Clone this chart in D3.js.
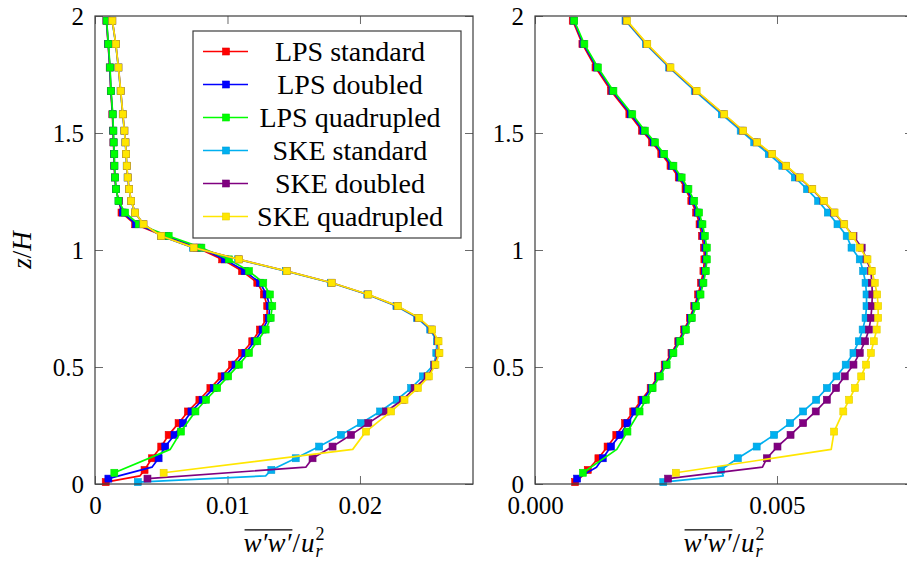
<!DOCTYPE html>
<html><head><meta charset="utf-8">
<script src="https://cdn.jsdelivr.net/npm/d3@7"></script>
<style>
body{margin:0;background:#fff}
svg{display:block}
</style>
</head><body>
<svg id="chart" width="907" height="561"></svg>
<script>
// ---------- data ----------
const seriesNames = ["LPS standard","LPS doubled","LPS quadrupled","SKE standard","SKE doubled","SKE quadrupled"];
const seriesColors = ["#ff0000","#0000ff","#00ff00","#00b0f0","#800080","#ffe600"];

const zCommon = [1.98,1.88,1.78,1.68,1.58,1.51,1.46,1.41,1.36,1.31,1.26,1.21,1.16,1.11,1.06,1.01,0.96,0.91,0.86,0.81,0.76,0.71,0.66,0.61,0.56,0.51,0.46,0.41,0.36,0.31];
const zTailStandard   = [0.26,0.21,0.16,0.11,0.06,0.035,0.008];
const zTailDoubled    = [0.26,0.21,0.16,0.11,0.072,0.023];
const zTailQuadrupled = [0.224,0.148,0.048];
const zUnmarked = [0.035,0.072,0.148]; // line corners drawn without a marker

// left panel
const lpsStdLeft  = [0.00086,0.00099,0.00111,0.00119,0.00131,0.00136,0.00139,0.00143,0.00145,0.0015,0.00158,0.0018,0.0020,0.00303,0.0052,0.0077,0.0096,0.0111,0.01225,0.01275,0.013,0.01298,0.01245,0.01187,0.0111,0.01035,0.00955,0.00871,0.00788,0.00702,
                     0.00631,0.00556,0.005,0.0043,0.00374,0.0034,0.00081];
const lpsDblLeft  = [0.00087,0.001,0.00112,0.0012,0.00133,0.00138,0.0014,0.00145,0.00146,0.00151,0.00158,0.00178,0.0021,0.0031,0.0054,0.0079,0.0098,0.0113,0.01245,0.01295,0.01318,0.01312,0.01265,0.01205,0.01135,0.0106,0.0098,0.00896,0.00812,0.00728,
                     0.00664,0.006,0.0053,0.0048,0.0043,0.00101];
const lpsQuadLeft = [0.00088,0.00101,0.00114,0.00121,0.00134,0.00139,0.00141,0.00146,0.00147,0.00152,0.00159,0.00177,0.00227,0.0033,0.00556,0.00803,0.0101,0.01162,0.0127,0.0132,0.01338,0.01326,0.01288,0.01225,0.01162,0.01086,0.01005,0.00922,0.00838,0.00758,
                     0.00649,0.00568,0.00146];
const skeStdLeft  = [0.0013,0.00156,0.00176,0.00193,0.00209,0.00221,0.00229,0.00234,0.00239,0.00246,0.00257,0.00272,0.00302,0.00364,0.00498,0.0074,0.0108,0.0144,0.0178,0.02055,0.02275,0.0243,0.0253,0.0258,0.02576,0.02558,0.02475,0.02386,0.02278,0.02152,
                     0.02008,0.01856,0.01692,0.01515,0.01331,0.01288,0.00323];
const skeDblLeft  = [0.00131,0.00157,0.00177,0.00194,0.0021,0.00222,0.0023,0.00235,0.0024,0.00247,0.00258,0.00273,0.00303,0.00366,0.005,0.00745,0.01086,0.01447,0.01786,0.0206,0.02283,0.0244,0.0254,0.02588,0.02594,0.02562,0.0251,0.02412,0.02323,0.02197,
                     0.02063,0.01932,0.01793,0.01642,0.01591,0.00396];
const skeQuadLeft = [0.00131,0.00157,0.00177,0.00194,0.0021,0.00222,0.0023,0.00235,0.0024,0.00247,0.00258,0.00273,0.00303,0.00366,0.005,0.00745,0.01086,0.01447,0.01786,0.02063,0.02286,0.02445,0.02545,0.02593,0.026,0.0257,0.0252,0.02437,0.02336,0.02235,
                     0.02045,0.01945,0.00518];

// right panel
const lpsStdRight  = [0.00078,0.00098,0.00125,0.00157,0.00195,0.00221,0.00242,0.00261,0.0028,0.00297,0.00311,0.00323,0.00333,0.0034,0.00345,0.00349,0.0035,0.00348,0.00343,0.00337,0.00329,0.0032,0.00308,0.00296,0.00282,0.00268,0.00254,0.00239,0.0022,0.00203,
                      0.00186,0.00168,0.0015,0.00131,0.00109,0.00098,0.00083];
const lpsDblRight  = [0.0008,0.001,0.00128,0.0016,0.00198,0.00224,0.00245,0.00264,0.00283,0.003,0.00314,0.00326,0.00336,0.00343,0.00348,0.00352,0.00353,0.00351,0.00346,0.0034,0.00331,0.00322,0.0031,0.00298,0.00284,0.0027,0.00256,0.00241,0.00223,0.00207,
                      0.00191,0.00176,0.00157,0.0014,0.00127,0.00087];
const lpsQuadRight = [0.00081,0.00102,0.0013,0.00162,0.00201,0.00227,0.00248,0.00267,0.00286,0.00303,0.00317,0.00329,0.00339,0.00346,0.00351,0.00355,0.00355,0.00353,0.00348,0.00342,0.00333,0.00324,0.00312,0.003,0.00286,0.00272,0.00258,0.00243,0.00229,0.00216,
                      0.00191,0.00169,0.00099];
const skeStdRight  = [0.00187,0.00229,0.00277,0.0033,0.00386,0.00425,0.00453,0.00483,0.00511,0.00537,0.00562,0.00585,0.00605,0.00625,0.00644,0.00654,0.00671,0.00678,0.00683,0.00685,0.00685,0.00683,0.00677,0.00669,0.00658,0.00642,0.00623,0.00603,0.00581,0.00554,
                      0.00527,0.00494,0.00458,0.00419,0.00384,0.00389,0.00265];
const skeDblRight  = [0.00189,0.00231,0.00279,0.00333,0.0039,0.00429,0.00458,0.00489,0.00518,0.00546,0.00572,0.00596,0.00618,0.00638,0.00658,0.00675,0.00685,0.00694,0.00696,0.00697,0.00696,0.00694,0.0069,0.00682,0.00671,0.00658,0.0064,0.00622,0.00603,0.0058,
                      0.00554,0.00528,0.00501,0.00479,0.0047,0.00275];
const skeQuadRight = [0.0019,0.00232,0.0028,0.00334,0.00391,0.0043,0.00459,0.0049,0.00519,0.00547,0.00573,0.00597,0.00619,0.00639,0.00656,0.00671,0.00687,0.00696,0.00702,0.00707,0.00709,0.00709,0.00706,0.007,0.00694,0.00684,0.00674,0.00661,0.00649,0.00637,
                      0.00618,0.00612,0.00291];

const xTicksLeft = [0, 0.01, 0.02];
const xTickLabelsLeft = ["0", "0.01", "0.02"];
const xTicksRight = [0, 0.005];
const xTickLabelsRight = ["0.000", "0.005"];
const yTicks = [0, 0.5, 1, 1.5, 2];
const yTickLabels = ["0", "0.5", "1", "1.5", "2"];
const xDomainLeft = [0, 0.02853];
const xDomainRight = [0, 0.00781];
const yDomain = [0, 2];

// ---------- font choice (serif, whichever is installed) ----------
function fontAvailable(name) {
  const c = document.createElement("canvas").getContext("2d");
  const s = "abcdefghijklmnopqrstuvwxyz0123456789";
  c.font = "40px monospace"; const a = c.measureText(s).width;
  c.font = `40px "${name}", monospace`; const b = c.measureText(s).width;
  return Math.abs(a - b) > 0.5;
}
let FONT, tickFont, legendFont, labelFont, supFont;
if (fontAvailable("Liberation Serif")) {
  FONT = '"Liberation Serif", serif'; tickFont = 25; legendFont = 28; labelFont = 27; supFont = 18;
} else if (fontAvailable("DejaVu Serif")) {
  FONT = '"DejaVu Serif", serif'; tickFont = 20; legendFont = 23; labelFont = 22; supFont = 15;
} else {
  FONT = '"Noto Serif", serif'; tickFont = 21; legendFont = 24; labelFont = 23; supFont = 16;
}

// ---------- build ----------
const zTails = [zTailStandard, zTailDoubled, zTailQuadrupled];
const leftValues  = [lpsStdLeft, lpsDblLeft, lpsQuadLeft, skeStdLeft, skeDblLeft, skeQuadLeft];
const rightValues = [lpsStdRight, lpsDblRight, lpsQuadRight, skeStdRight, skeDblRight, skeQuadRight];

function buildSeries(values) {
  return values.map((vals, i) => {
    const mesh = i % 3;
    const zs = zCommon.concat(zTails[mesh]);
    return {
      name: seriesNames[i], color: seriesColors[i],
      points: vals.map((v, k) => ({ x: v, z: zs[k], mark: zs[k] !== zUnmarked[mesh] }))
    };
  });
}

const svg = d3.select("#chart").style("font-family", FONT);
const TOP = 16, BOTTOM = 484;
const y = d3.scaleLinear().domain(yDomain).range([BOTTOM, TOP]);
const FRAME = "#3c3c3c", TICKC = "#6a6a6a";

function styleText(sel, size) {
  sel.attr("font-size", size).attr("font-family", FONT).attr("fill", "#000");
}

function drawPanel(x0, x1, xDomain, xTicks, xLabels, values) {
  const x = d3.scaleLinear().domain(xDomain).range([x0, x1]);
  const g = svg.append("g");

  const ax = d3.axisBottom(x).tickValues(xTicks).tickFormat((d, i) => xLabels[i]).tickSizeInner(-8).tickSizeOuter(0).tickPadding(12);
  const gb = g.append("g").attr("transform", `translate(0,${BOTTOM})`).call(ax);
  gb.select(".domain").remove();
  gb.selectAll("line").attr("stroke", TICKC);
  styleText(gb.selectAll("text"), tickFont);
  const gt = g.append("g").attr("transform", `translate(0,${TOP})`).call(d3.axisTop(x).tickValues(xTicks).tickSizeInner(-8).tickSizeOuter(0).tickFormat(""));
  gt.select(".domain").remove();
  gt.selectAll("line").attr("stroke", TICKC);

  const ay = d3.axisLeft(y).tickValues(yTicks).tickFormat((d, i) => yTickLabels[i]).tickSizeInner(-8).tickSizeOuter(0).tickPadding(11);
  const gl = g.append("g").attr("transform", `translate(${x0},0)`).call(ay);
  gl.select(".domain").remove();
  gl.selectAll("line").attr("stroke", TICKC);
  styleText(gl.selectAll("text"), tickFont);
  const gr = g.append("g").attr("transform", `translate(${x1},0)`).call(d3.axisRight(y).tickValues(yTicks).tickSizeInner(-8).tickSizeOuter(0).tickFormat(""));
  gr.select(".domain").remove();
  gr.selectAll("line").attr("stroke", TICKC);

  const series = buildSeries(values);
  const line = d3.line().x(d => x(d.x)).y(d => y(d.z));
  series.forEach(s => {
    const sg = g.append("g");
    sg.append("path").datum(s.points).attr("d", line)
      .attr("fill", "none").attr("stroke", s.color).attr("stroke-width", 1.7).attr("stroke-linejoin", "round");
    sg.selectAll("rect").data(s.points.filter(p => p.mark)).join("rect")
      .attr("x", d => x(d.x) - 3.5).attr("y", d => y(d.z) - 3.5)
      .attr("width", 7).attr("height", 7)
      .attr("fill", s.color).attr("stroke", d3.color(s.color).darker(0.3)).attr("stroke-width", 0.6);
  });

  g.append("rect").attr("x", x0).attr("y", TOP).attr("width", x1 - x0).attr("height", BOTTOM - TOP)
    .attr("fill", "none").attr("stroke", FRAME).attr("stroke-width", 1.2);

  // x label: overline(w'w') / u_r^2
  const lab = g.append("g");
  let cx = 0;
  const baseY = 552;
  const t1 = lab.append("text").attr("x", cx).attr("y", baseY).attr("font-style", "italic").text("w\u2032w\u2032");
  styleText(t1, labelFont);
  const w1 = t1.node().getComputedTextLength();
  lab.append("line").attr("x1", 1).attr("x2", w1 + 1).attr("y1", baseY - labelFont * 0.82).attr("y2", baseY - labelFont * 0.82).attr("stroke", "#000").attr("stroke-width", 1.1);
  cx += w1 + 1;
  const t2 = lab.append("text").attr("x", cx).attr("y", baseY).text("/");
  styleText(t2, labelFont);
  cx += t2.node().getComputedTextLength() + 1;
  const t3 = lab.append("text").attr("x", cx).attr("y", baseY).attr("font-style", "italic").text("u");
  styleText(t3, labelFont);
  cx += t3.node().getComputedTextLength() + 1;
  const t4 = lab.append("text").attr("x", cx).attr("y", baseY + 5).attr("font-style", "italic").text("r");
  styleText(t4, supFont);
  const t5 = lab.append("text").attr("x", cx).attr("y", baseY - 12).text("2");
  styleText(t5, supFont);
  cx += Math.max(t4.node().getComputedTextLength(), t5.node().getComputedTextLength());
  lab.attr("transform", `translate(${(x0 + x1) / 2 - cx / 2},0)`);
  return x;
}

drawPanel(95, 473, xDomainLeft, xTicksLeft, xTickLabelsLeft, leftValues);
drawPanel(535, 913, xDomainRight, xTicksRight, xTickLabelsRight, rightValues);

// y label
const yl = svg.append("text").attr("transform", "translate(31,250) rotate(-90)").attr("text-anchor", "middle");
styleText(yl, labelFont);
yl.append("tspan").attr("font-style", "italic").text("z");
yl.append("tspan").text("/");
yl.append("tspan").attr("font-style", "italic").text("H");

// legend
const lg = svg.append("g");
lg.append("rect").attr("x", 193).attr("y", 31).attr("width", 268).attr("height", 207)
  .attr("fill", "#fff").attr("stroke", FRAME).attr("stroke-width", 1.2);
seriesNames.forEach((name, i) => {
  const cy = 51.5 + i * 33;
  lg.append("line").attr("x1", 203).attr("x2", 248).attr("y1", cy).attr("y2", cy)
    .attr("stroke", seriesColors[i]).attr("stroke-width", 1.7);
  lg.append("rect").attr("x", 222.5).attr("y", cy - 3.5).attr("width", 7).attr("height", 7)
    .attr("fill", seriesColors[i]).attr("stroke", d3.color(seriesColors[i]).darker(0.3)).attr("stroke-width", 0.6);
  const t = lg.append("text").attr("x", 350).attr("y", cy + legendFont * 0.33).attr("text-anchor", "middle").text(name);
  styleText(t, legendFont);
});
</script>
</body></html>
